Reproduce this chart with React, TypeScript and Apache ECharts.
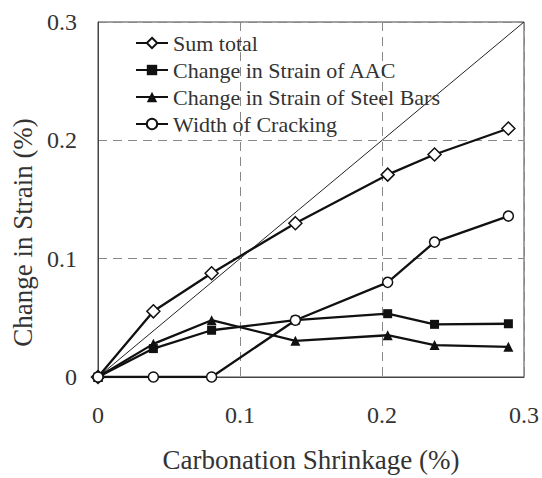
import React, { useEffect, useRef } from "react";
import * as echarts from "echarts";

const xShrinkage = [0, 0.039, 0.08, 0.139, 0.204, 0.237, 0.289];
const sumTotal = [0, 0.0555, 0.0877, 0.13, 0.171, 0.188, 0.21];
const strainAAC = [0, 0.024, 0.0395, 0.048, 0.0535, 0.0445, 0.045];
const strainSteel = [0, 0.028, 0.048, 0.0306, 0.0353, 0.027, 0.0255];
const crackWidth = [0, 0, 0, 0.048, 0.08, 0.114, 0.136];
const seriesNames = [
  "Sum total",
  "Change in Strain of AAC",
  "Change in Strain of Steel Bars",
  "Width of Cracking",
];
const diagonal = [0, 0.3];

const FONT = "Liberation Serif";

export default function App() {
  const ref = useRef<HTMLDivElement>(null);
  useEffect(() => {
    if (!ref.current) return;
    const chart = echarts.init(ref.current, undefined, { renderer: "svg" });
    const pair = (ys: number[]) => xShrinkage.map((x, i) => [x, ys[i]]);
    const lineStyle = { color: "#111", width: 2.3 };
    const mk = (name: string, ys: number[], symbol: string, size: number, hollow: boolean) => ({
      name,
      type: "line",
      data: pair(ys),
      symbol,
      symbolSize: size,
      showAllSymbol: true,
      lineStyle,
      itemStyle: hollow
        ? { color: "#fff", borderColor: "#111", borderWidth: 1.5 }
        : { color: "#111", borderColor: "#111", borderWidth: 0 },
      emphasis: { disabled: true },
    });
    chart.setOption({
      animation: false,
      grid: {
        left: 98,
        right: 16,
        top: 22,
        bottom: 98,
        show: true,
        borderColor: "#444",
        borderWidth: 1,
      },
      legend: {
        data: seriesNames,
        orient: "vertical",
        left: 130,
        top: 27,
        itemWidth: 32,
        itemHeight: 13,
        itemGap: 5,
        textStyle: { fontFamily: FONT, fontSize: 22, color: "#333", lineHeight: 22 },
      },
      xAxis: {
        type: "value",
        min: 0,
        max: 0.3,
        interval: 0.1,
        name: "Carbonation Shrinkage (%)",
        nameLocation: "middle",
        nameGap: 69,
        nameTextStyle: { fontFamily: FONT, fontSize: 27, color: "#333" },
        axisLine: { show: true, lineStyle: { color: "#444", width: 1 } },
        axisTick: { show: false },
        axisLabel: { fontFamily: FONT, fontSize: 24, color: "#333", margin: 26 },
        splitLine: { show: true, lineStyle: { color: "#888", type: [9, 6], width: 1 } },
      },
      yAxis: {
        type: "value",
        min: 0,
        max: 0.3,
        interval: 0.1,
        name: "Change in Strain (%)",
        nameLocation: "middle",
        nameGap: 60,
        nameTextStyle: { fontFamily: FONT, fontSize: 27, color: "#333", padding: [0, 66, 0, 0] },
        axisLine: { show: true, lineStyle: { color: "#444", width: 1 } },
        axisTick: { show: false },
        axisLabel: { fontFamily: FONT, fontSize: 24, color: "#333", margin: 21 },
        splitLine: { show: true, lineStyle: { color: "#888", type: [9, 6], width: 1 } },
      },
      series: [
        {
          name: "diagonal",
          type: "line",
          data: diagonal.map((v) => [v, v]),
          symbol: "none",
          lineStyle: { color: "#222", width: 1 },
          emphasis: { disabled: true },
          silent: true,
        },
        mk(seriesNames[0], sumTotal, "diamond", 13, true),
        mk(seriesNames[1], strainAAC, "rect", 9, false),
        mk(seriesNames[2], strainSteel, "triangle", 10, false),
        mk(seriesNames[3], crackWidth, "circle", 10, true),
      ],
    });
    return () => chart.dispose();
  }, []);
  return (
    <div
      ref={ref}
      style={{ position: "fixed", left: 0, top: 0, width: 542, height: 478, background: "#fff" }}
    />
  );
}
